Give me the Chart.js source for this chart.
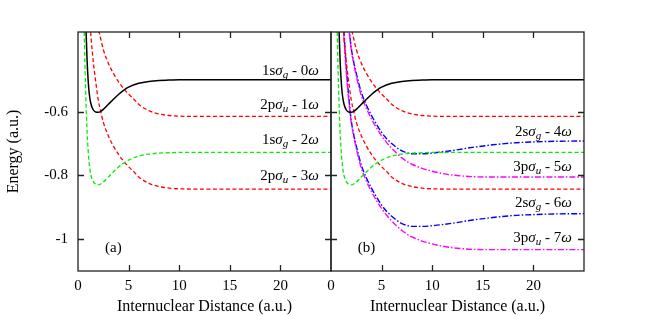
<!DOCTYPE html>
<html>
<head>
<meta charset="utf-8">
<script src="https://cdn.jsdelivr.net/npm/chart.js@4.4.0/dist/chart.umd.min.js"></script>
<style>
    html, body { margin: 0; padding: 0; background: #fff; }
    #wrap { position: relative; width: 650px; height: 316px; }
    #panelA { position: absolute; left: 0; top: 0; }
    #panelB { position: absolute; left: 300px; top: 0; }
</style>
</head>
<body>
<div id="wrap">
    <canvas id="panelA" width="340" height="316"></canvas>
    <canvas id="panelB" width="350" height="316"></canvas>
</div>
<script>
// ticks
var xTicks = [0, 5, 10, 15, 20];
var yTicks = [-1, -0.8, -0.6];

// 1s sigma_g curves (0 and 2 photons)
var rSigG = [0.6, 0.7, 0.8, 0.9, 1.0, 1.1, 1.25, 1.5, 1.75, 2.0, 2.25, 2.5, 3, 3.5, 4, 4.5, 5, 6, 7, 8, 9, 10, 12, 15, 20, 25];
var e1sg0 = [-0.05, -0.22, -0.35, -0.44, -0.50, -0.54, -0.572, -0.594, -0.601, -0.602, -0.599, -0.593, -0.577, -0.561, -0.546, -0.533, -0.523, -0.511, -0.505, -0.502, -0.501, -0.5, -0.5, -0.5, -0.5, -0.5];
var e1sg2 = [-0.33, -0.47, -0.58, -0.665, -0.72, -0.76, -0.795, -0.819, -0.828, -0.830, -0.827, -0.821, -0.805, -0.789, -0.774, -0.762, -0.752, -0.739, -0.733, -0.730, -0.729, -0.728, -0.728, -0.728, -0.728, -0.728];

// 2p sigma_u curves (1 and 3 photons)
var rSigU = [1.0, 1.2, 1.4, 1.6, 1.8, 2.0, 2.25, 2.5, 3, 3.5, 4, 4.5, 5, 5.5, 6, 7, 8, 9, 10, 12, 15, 20, 25];
var e2pu1 = [0.0, -0.10, -0.18, -0.24, -0.29, -0.335, -0.372, -0.405, -0.448, -0.480, -0.506, -0.527, -0.545, -0.560, -0.577, -0.597, -0.607, -0.612, -0.614, -0.615, -0.615, -0.615, -0.615];
var e2pu3 = [-0.228, -0.328, -0.408, -0.468, -0.518, -0.563, -0.600, -0.633, -0.676, -0.708, -0.734, -0.755, -0.773, -0.788, -0.805, -0.825, -0.835, -0.840, -0.842, -0.843, -0.843, -0.843, -0.843];

// 2s sigma_g curves (4 and 6 photons)
var r2sg = [1.2, 1.4, 1.6, 1.8, 2.0, 2.25, 2.5, 3, 3.5, 4, 4.5, 5, 5.5, 6, 6.5, 7, 7.5, 8, 9, 10, 12, 14, 16, 18, 20, 22, 25];
var e2sg4 = [-0.08, -0.18, -0.27, -0.34, -0.40, -0.445, -0.48, -0.54, -0.58, -0.612, -0.64, -0.665, -0.685, -0.70, -0.713, -0.723, -0.729, -0.732, -0.732, -0.730, -0.722, -0.712, -0.704, -0.698, -0.695, -0.693, -0.692];
var e2sg6 = [-0.308, -0.408, -0.498, -0.568, -0.628, -0.673, -0.708, -0.768, -0.808, -0.840, -0.868, -0.893, -0.913, -0.928, -0.941, -0.951, -0.957, -0.960, -0.960, -0.958, -0.950, -0.940, -0.932, -0.926, -0.923, -0.921, -0.920];

// 3p sigma_u curves (5 and 7 photons)
var r3pu = [1.2, 1.4, 1.6, 1.8, 2.0, 2.25, 2.5, 3, 3.5, 4, 4.5, 5, 5.5, 6, 6.5, 7, 7.5, 8, 9, 10, 11, 12, 13, 14, 16, 20, 25];
var e3pu5 = [-0.10, -0.20, -0.285, -0.35, -0.405, -0.45, -0.488, -0.55, -0.59, -0.623, -0.651, -0.676, -0.697, -0.715, -0.731, -0.745, -0.756, -0.765, -0.778, -0.787, -0.794, -0.799, -0.802, -0.804, -0.805, -0.805, -0.805];
var e3pu7 = [-0.328, -0.428, -0.513, -0.578, -0.633, -0.678, -0.716, -0.778, -0.818, -0.851, -0.879, -0.904, -0.925, -0.943, -0.959, -0.973, -0.984, -0.993, -1.006, -1.015, -1.022, -1.027, -1.030, -1.032, -1.033, -1.033, -1.033];

// curve labels: orbital, symmetry, photon number
var orbitA = ['1s', '2p', '1s', '2p'];
var symA = ['g', 'u', 'g', 'u'];
var photonsA = [0, 1, 2, 3];
var orbitB = ['2s', '3p', '2s', '3p'];
var symB = ['g', 'u', 'g', 'u'];
var photonsB = [4, 5, 6, 7];

var SERIF = '"Liberation Serif", "DejaVu Serif", serif';
var labelAtA = [-0.472, -0.578, -0.69, -0.803];
var labelAtB = [-0.665, -0.774, -0.887, -0.998];

var pts = function (rs, es) {
    return rs.map(function (r, i) { return { x: r, y: es[i] }; });
};

var line = function (rs, es, color, dash, width) {
    return {
        data: pts(rs, es),
        borderColor: color,
        borderWidth: width || 1.3,
        borderDash: dash || [],
        pointRadius: 0,
        fill: false,
        cubicInterpolationMode: 'monotone'
    };
};

var DASH = [4, 2.5];
var DASHDOT = [6, 2, 1.5, 2];

var setsA = [
    line(rSigG, e1sg0, '#000000', [], 1.5),
    line(rSigU, e2pu1, '#ff0000', DASH),
    line(rSigG, e1sg2, '#00ee00', DASH),
    line(rSigU, e2pu3, '#ff0000', DASH)
];
var setsB = [
    line(rSigG, e1sg0, '#000000', [], 1.5),
    line(rSigU, e2pu1, '#ff0000', DASH),
    line(rSigG, e1sg2, '#00ee00', DASH),
    line(rSigU, e2pu3, '#ff0000', DASH),
    line(r3pu, e3pu5, '#ff00ff', DASHDOT, 1.4),
    line(r2sg, e2sg4, '#0000ff', DASHDOT, 1.4),
    line(r3pu, e3pu7, '#ff00ff', DASHDOT, 1.4),
    line(r2sg, e2sg6, '#0000ff', DASHDOT, 1.4)
];

// border box with inward ticks on all sides
var frame = {
    id: 'frame',
    afterDraw: function (chart) {
        var ctx = chart.ctx, a = chart.chartArea;
        var sx = chart.scales.x, sy = chart.scales.y;
        ctx.save();
        ctx.strokeStyle = '#222';
        ctx.lineWidth = 1.3;
        ctx.beginPath();
        xTicks.forEach(function (v) {
            if (v === 0) return;
            var px = Math.round(sx.getPixelForValue(v)) + 0.5;
            ctx.moveTo(px, a.bottom); ctx.lineTo(px, a.bottom - 6);
            ctx.moveTo(px, a.top); ctx.lineTo(px, a.top + 6);
        });
        yTicks.forEach(function (v) {
            var py = Math.round(sy.getPixelForValue(v)) + 0.5;
            ctx.moveTo(a.left, py); ctx.lineTo(a.left + 6, py);
            ctx.moveTo(a.right, py); ctx.lineTo(a.right - 6, py);
        });
        ctx.stroke();
        ctx.strokeRect(a.left, a.top, a.right - a.left, a.bottom - a.top);
        ctx.restore();
    }
};

var drawMath = function (ctx, parts, right, cy) {
    var total = 0;
    parts.forEach(function (p) { ctx.font = p.f; p.w = ctx.measureText(p.t).width; total += p.w; });
    var x = right - total;
    ctx.textBaseline = 'middle';
    ctx.textAlign = 'left';
    ctx.fillStyle = '#000';
    parts.forEach(function (p) {
        ctx.font = p.f;
        ctx.fillText(p.t, x, cy + (p.dy || 0));
        x += p.w;
    });
};

var curveLabels = {
    id: 'curveLabels',
    afterDraw: function (chart, args, opts) {
        var ctx = chart.ctx, sx = chart.scales.x, sy = chart.scales.y;
        var right = sx.getPixelForValue(23.8);
        ctx.save();
        opts.orbit.forEach(function (o, i) {
            drawMath(ctx, [
                { t: o, f: '15px ' + SERIF },
                { t: '\u03c3', f: 'italic 15px ' + SERIF },
                { t: opts.sym[i], f: 'italic 11px ' + SERIF, dy: 4 },
                { t: ' - ' + opts.photons[i], f: '15px ' + SERIF },
                { t: '\u03c9', f: 'italic 15px ' + SERIF }
            ], right, sy.getPixelForValue(opts.at[i]));
        });
        ctx.font = '15px ' + SERIF;
        ctx.textAlign = 'center';
        ctx.fillText(opts.tag, sx.getPixelForValue(3.5), sy.getPixelForValue(-1.028));
        ctx.restore();
    }
};

var makeOptions = function (showY, yWidth, padding, labels) {
    var tickFont = { family: SERIF, size: 15 };
    var titleFont = { family: SERIF, size: 16 };
    return {
        responsive: false,
        animation: false,
        devicePixelRatio: 1,
        layout: { padding: padding },
        plugins: {
            legend: { display: false },
            tooltip: { enabled: false },
            curveLabels: labels
        },
        scales: {
            x: {
                type: 'linear', min: 0, max: 25,
                afterBuildTicks: function (s) { s.ticks = xTicks.map(function (v) { return { value: v }; }); },
                afterFit: function (s) { s.height = 45; },
                grid: { display: false, drawTicks: false },
                border: { display: false },
                ticks: { font: tickFont, color: '#000', padding: 6, maxRotation: 0 },
                title: { display: true, text: 'Internuclear Distance (a.u.)', font: titleFont, color: '#000', padding: { top: 0, bottom: 0 } }
            },
            y: {
                type: 'linear', min: -1.1, max: -0.35,
                display: showY,
                afterBuildTicks: function (s) { s.ticks = yTicks.map(function (v) { return { value: v }; }); },
                afterFit: function (s) { s.width = yWidth; },
                grid: { display: false, drawTicks: false },
                border: { display: false },
                ticks: { font: tickFont, color: '#000', padding: 10, callback: function (v) { return String(v); } },
                title: { display: true, text: 'Energy (a.u.)', font: titleFont, color: '#000', padding: { top: 4, bottom: 0 } }
            }
        }
    };
};

new Chart('panelA', {
    type: 'line',
    data: { datasets: setsA },
    options: makeOptions(true, 78, { top: 32, right: 9, bottom: 0, left: 0 },
        { orbit: orbitA, sym: symA, photons: photonsA, at: labelAtA, tag: '(a)' }),
    plugins: [frame, curveLabels]
});

new Chart('panelB', {
    type: 'line',
    data: { datasets: setsB },
    options: makeOptions(false, 31, { top: 32, right: 66, bottom: 0, left: 0 },
        { orbit: orbitB, sym: symB, photons: photonsB, at: labelAtB, tag: '(b)' }),
    plugins: [frame, curveLabels]
});
</script>
</body>
</html>
